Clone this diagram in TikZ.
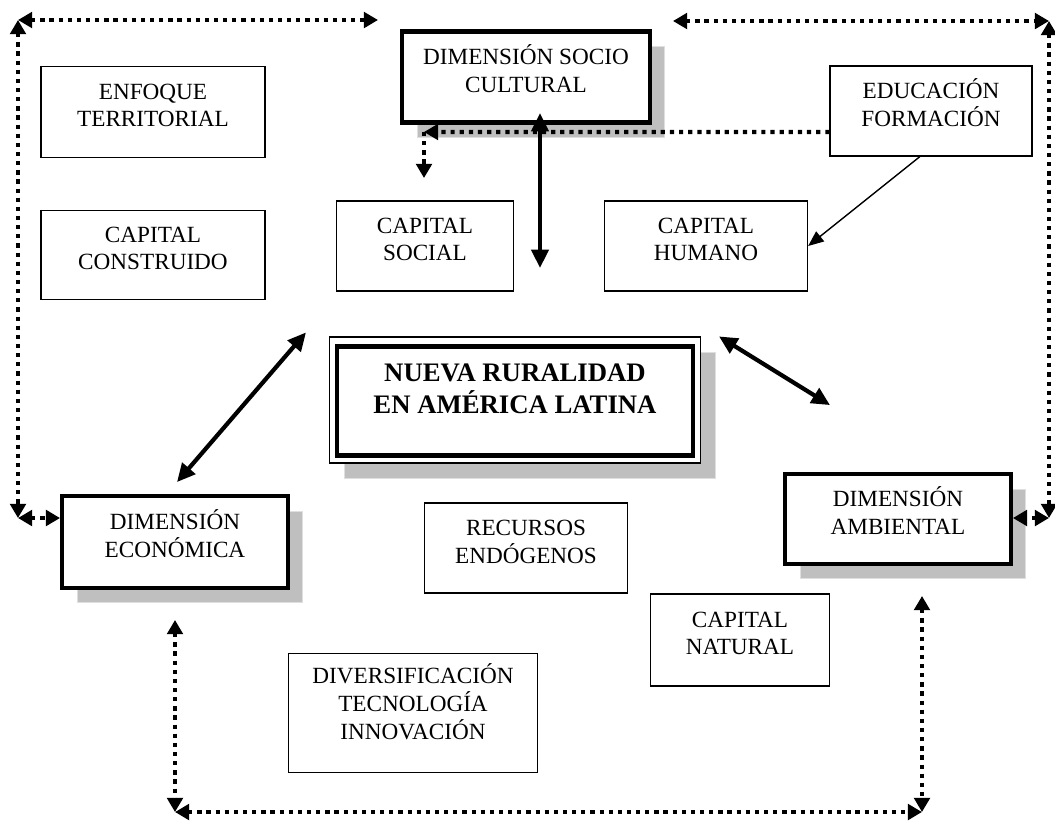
\documentclass[tikz,border=0pt]{standalone}
\usepackage{fontspec}
\setmainfont{Liberation Serif}
\usetikzlibrary{arrows.meta,shadows}

% texto de las cajas, algo subido como en el original
\newcommand{\rotulo}[2][6pt]{\begin{tabular}{@{}c@{}}#2\\[#1]\end{tabular}}

\begin{document}
\begin{tikzpicture}[x=0.025cm, y=-0.025cm,
	caja/.style={draw, line width=1pt, fill=white, font=\fontsize{16.5}{19.5}\selectfont},
	sombra/.style={drop shadow={shadow xshift=0.375cm, shadow yshift=-0.375cm, fill=gray!50, draw=gray!25, line width=0.6pt, opacity=1}},
	dimension/.style={caja, line width=3pt, sombra},
	punteado/.style={line width=3pt, dash pattern=on 3pt off 3.5pt, >={Triangle[length=10pt,width=11pt]}},
	flecha/.style={line width=3pt, >={Triangle[length=13pt,width=12pt]}, <->}]
	\useasboundingbox (0,0) rectangle (1055,825);
	
	% Cajas simples
	\node[caja, minimum width=5.6cm, minimum height=2.27cm] (enfoque) at (153,112) {\rotulo{ENFOQUE\\TERRITORIAL}};
	\node[caja, minimum width=5.6cm, minimum height=2.22cm] (construido) at (153,255) {\rotulo{CAPITAL\\CONSTRUIDO}};
	\node[caja, minimum width=4.42cm, minimum height=2.24cm] (social) at (425,246) {\rotulo{CAPITAL\\SOCIAL}};
	\node[caja, minimum width=5.07cm, minimum height=2.24cm] (humano) at (706,246) {\rotulo{CAPITAL\\HUMANO}};
	\node[caja, minimum width=5.04cm, minimum height=2.24cm] (educacion) at (931,111) {\rotulo{EDUCACIÓN\\FORMACIÓN}};
	\node[caja, minimum width=5.07cm, minimum height=2.24cm] (recursos) at (526,548) {\rotulo{RECURSOS\\ENDÓGENOS}};
	\node[caja, minimum width=4.47cm, minimum height=2.29cm] (natural) at (740,640) {\rotulo{CAPITAL\\NATURAL}};
	\node[caja, minimum width=6.22cm, minimum height=2.97cm] (diversif) at (413,713) {\rotulo[10pt]{DIVERSIFICACIÓN\\TECNOLOGÍA\\INNOVACIÓN}};
	
	% Dimensiones (borde grueso y sombra)
	\node[dimension, minimum width=6.19cm, minimum height=2.27cm] (socio) at (526,77) {\rotulo{DIMENSIÓN SOCIO\\CULTURAL}};
	\node[dimension, minimum width=5.64cm, minimum height=2.29cm] (economica) at (175,542) {\rotulo{DIMENSIÓN\\ECONÓMICA}};
	\node[dimension, minimum width=5.64cm, minimum height=2.24cm] (ambiental) at (898,519) {\rotulo{DIMENSIÓN\\AMBIENTAL}};
	
	% Caja central
	\node[caja, line width=0.8pt, sombra, minimum width=9.27cm, minimum height=3.15cm] (nueva-marco) at (515,400) {};
	\node[caja, line width=3pt, minimum width=8.9cm, minimum height=2.72cm, font=\fontsize{19}{23}\selectfont\bfseries] (nueva) at (515,401) {\rotulo[14pt]{NUEVA RURALIDAD\\EN AMÉRICA LATINA}};
	
	% Esquinas de los marcos punteados
	\coordinate (esq-ai) at (18,20);
	\coordinate (fin-ai) at (378,20);
	\coordinate (ini-ad) at (673,21);
	\coordinate (esq-ad) at (1049,21);
	\coordinate (esq-bi) at (18,518);
	\coordinate (esq-bd) at (1049,518);
	\coordinate (eco-ab) at (175,620);
	\coordinate (amb-ab) at (922,596);
	\coordinate (esq-ii) at (175,812);
	\coordinate (esq-id) at (922,812);
	\coordinate (soc-esq) at (424,132);
	\coordinate (soc-ab) at (424,178);
	\coordinate (soc-a) at (540,113);
	\coordinate (soc-b) at (540,268);
	
	\draw[punteado, <->] (esq-ai) -- (fin-ai);
	\draw[punteado, <->] (esq-ai) -- (esq-bi);
	\draw[punteado, <->] (esq-bi) -- (esq-bi -| economica.west);
	\draw[punteado, <->] (ini-ad) -- (esq-ad);
	\draw[punteado, <->] (esq-ad) -- (esq-bd);
	\draw[punteado, <->] (esq-bd) -- (esq-bd -| ambiental.east);
	\draw[punteado, <->] (eco-ab) -- (esq-ii);
	\draw[punteado, <->] (esq-ii) -- (esq-id);
	\draw[punteado, <->] (amb-ab) -- (esq-id);
	
	% Educación hacia socio cultural
	\draw[punteado, ->] ([yshift=-0.525cm]educacion.west) -- (soc-esq);
	\draw[punteado, ->] (soc-esq) -- (soc-ab);
	\draw[line width=1pt, -{Triangle[length=11pt,width=9pt]}] ([xshift=-0.275cm]educacion.south) -- (humano.east);
	
	% Flechas llenas
	\draw[flecha] (soc-a) -- (soc-b);
	\draw[flecha] ([xshift=-0.575cm, yshift=0.1cm]nueva-marco.north west) -- ([xshift=0.05cm, yshift=0.3cm]economica.north);
	\draw[flecha] ([xshift=0.45cm]nueva-marco.north east) -- ([xshift=-1.7cm, yshift=1.675cm]ambiental.north);
\end{tikzpicture}
\end{document}
